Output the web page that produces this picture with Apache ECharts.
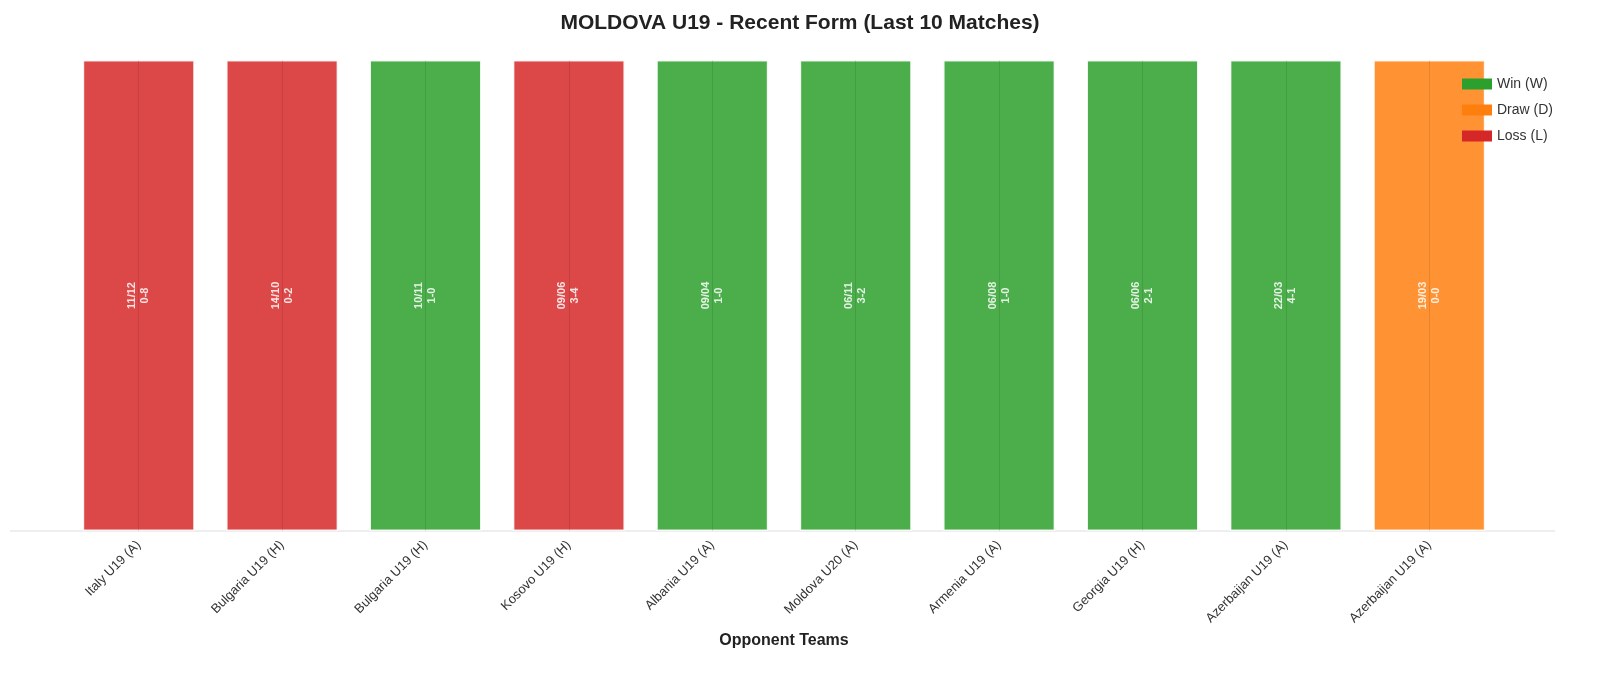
<!DOCTYPE html><html><head><meta charset="utf-8">
<script src="https://cdn.jsdelivr.net/npm/echarts@6/dist/echarts.min.js"></script>
<style>html,body{margin:0;padding:0;background:#fff}#c{width:1600px;height:679px}</style></head><body><div id="c"></div>
<script>
const teams=["Italy U19 (A)","Bulgaria U19 (H)","Bulgaria U19 (H)","Kosovo U19 (H)","Albania U19 (A)","Moldova U20 (A)","Armenia U19 (A)","Georgia U19 (H)","Azerbaijan U19 (A)","Azerbaijan U19 (A)"];
const dates=["11/12","14/10","10/11","09/06","09/04","06/11","06/08","06/06","22/03","19/03"];
const scores=["0-8","0-2","1-0","3-4","1-0","3-2","1-0","2-1","4-1","0-0"];
const results=["L","L","W","L","W","W","W","W","W","D"];
const heights=[1,1,1,1,1,1,1,1,1,1];
const F='Liberation Sans';
const defs=[["W","Win (W)","#2ca02c"],["D","Draw (D)","#ff7f0e"],["L","Loss (L)","#d62728"]];
const series=defs.map(([k,name,color],si)=>({
  name,type:'bar',barWidth:112,barGap:'-100%',
  itemStyle:{color,opacity:0.85,borderColor:'#fff',borderWidth:1.5},
  data:heights.map((h,i)=>results[i]===k?{value:h,label:{show:true}}:null),
  label:{show:false,position:'inside',rotate:90,color:'#fff',fontWeight:'bold',fontSize:11,lineHeight:13,fontFamily:F,
    formatter:p=>dates[p.dataIndex]+'\n'+scores[p.dataIndex]},
  markLine:si===0?{silent:true,symbol:'none',label:{show:false},lineStyle:{color:'rgba(0,0,0,0.1)',type:'solid',width:1},
    data:teams.map((t,i)=>({xAxis:i}))}:undefined,
  z:2
}));
const ch=echarts.init(document.getElementById('c'));
ch.setOption({
  animation:false,
  title:{text:'MOLDOVA U19 - Recent Form (Last 10 Matches)',left:'center',top:8,textStyle:{fontSize:21,fontWeight:'bold',color:'#222',fontFamily:F}},
  legend:{orient:'vertical',right:42,top:72,icon:'rect',itemWidth:30,itemHeight:11,itemGap:12,textStyle:{fontSize:14,color:'#333',fontFamily:F},
    data:defs.map(d=>({name:d[1],itemStyle:{color:d[2],opacity:1,borderWidth:0}}))},
  grid:{left:67,right:99,top:60,bottom:148},
  xAxis:{type:'category',data:teams,name:'Opponent Teams',nameLocation:'middle',nameGap:100,
    nameTextStyle:{fontSize:16,fontWeight:'bold',color:'#222',fontFamily:F},
    axisLine:{show:false},axisTick:{show:false},
    axisLabel:{rotate:45,fontSize:13,color:'#333',margin:12,fontFamily:F,interval:0}},
  yAxis:{type:'value',min:0,max:1,show:false},
  graphic:[{type:'line',shape:{x1:10,y1:531,x2:1555,y2:531},style:{stroke:'#ddd',lineWidth:1}}],
  series
});
</script></body></html>
